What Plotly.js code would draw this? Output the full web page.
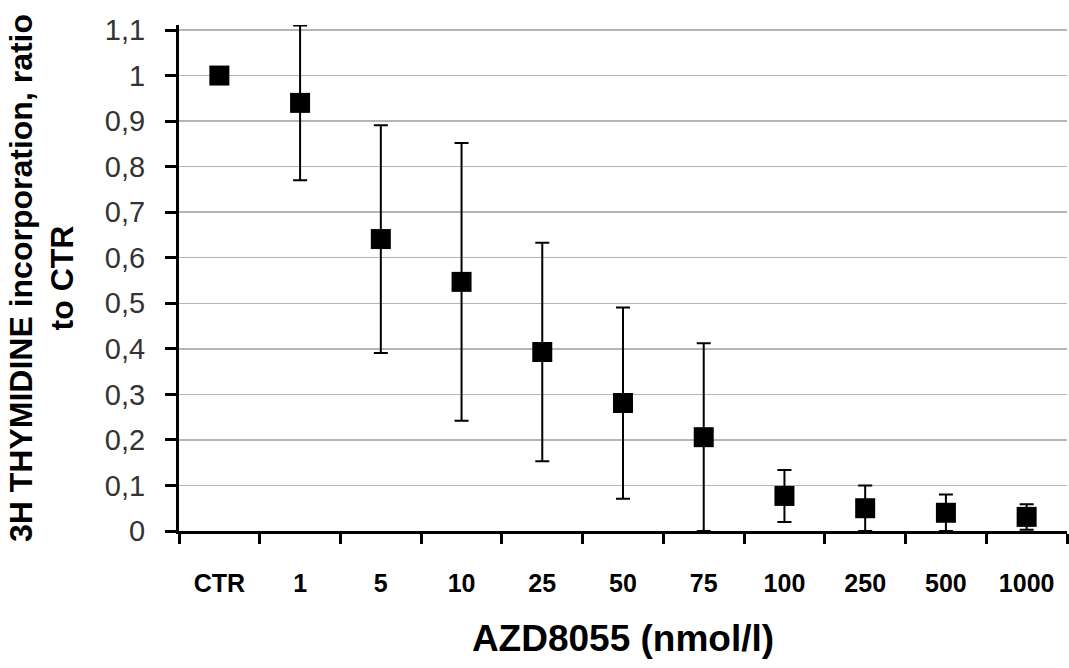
<!DOCTYPE html>
<html>
<head>
<meta charset="utf-8">
<script src="https://cdn.plot.ly/plotly-3.0.1.min.js"></script>
<style>
html,body{margin:0;padding:0;background:#fff;}
#chart{width:1069px;height:668px;}
</style>
</head>
<body>
<div id="chart"></div>
<script>
const categories = ["CTR", "1", "5", "10", "25", "50", "75", "100", "250", "500", "1000"];
const ratioValues = [1.0, 0.94, 0.641, 0.547, 0.393, 0.281, 0.206, 0.077, 0.050, 0.040, 0.031];
const ratioErrors = [0, 0.17, 0.25, 0.305, 0.24, 0.21, 0.206, 0.057, 0.05, 0.04, 0.028];
const yTickVals = [0, 0.1, 0.2, 0.3, 0.4, 0.5, 0.6, 0.7, 0.8, 0.9, 1, 1.1];
const yTickText = ["0", "0,1", "0,2", "0,3", "0,4", "0,5", "0,6", "0,7", "0,8", "0,9", "1", "1,1"];

const trace = {
  type: 'scatter',
  mode: 'markers',
  x: categories,
  y: ratioValues,
  cliponaxis: false,
  marker: {symbol: 'square', size: 20, color: '#000'},
  error_y: {type: 'data', array: ratioErrors, visible: true, color: '#000', thickness: 2, width: 7},
  showlegend: false
};

const layout = {
  width: 1069,
  height: 668,
  margin: {l: 179, r: 2, t: 25, b: 137},
  paper_bgcolor: '#fff',
  plot_bgcolor: '#fff',
  separators: ',.',
  font: {family: 'Liberation Sans, Arial, sans-serif', color: '#000'},
  xaxis: {
    type: 'category',
    range: [-0.5, 10.5],
    tickson: 'boundaries',
    ticks: 'outside',
    ticklen: 10,
    tickwidth: 3,
    tickcolor: '#000',
    showline: true,
    linecolor: '#000',
    linewidth: 3,
    showgrid: false,
    zeroline: false,
    ticklabelstandoff: 28,
    tickfont: {family: 'Liberation Sans, Arial, sans-serif', size: 25, color: '#000', weight: 'bold'},
    title: {text: '<b>AZD8055 (nmol/l)</b>', font: {size: 37, color: '#000'}, standoff: 30}
  },
  yaxis: {
    range: [0, 1.111],
    tickmode: 'array',
    tickvals: yTickVals,
    ticktext: yTickText,
    ticks: 'outside',
    ticklen: 11,
    tickwidth: 3,
    tickcolor: '#000',
    showline: true,
    linecolor: '#000',
    linewidth: 3,
    showgrid: true,
    gridcolor: '#b5b5b5',
    gridwidth: 1.5,
    zeroline: false,
    ticklabelstandoff: 14,
    tickfont: {family: 'Liberation Sans, Arial, sans-serif', size: 29, color: '#333'},
    title: {text: '<b>3H THYMIDINE incorporation, ratio<br>to CTR</b>', font: {size: 32, color: '#000'}, standoff: 22}
  }
};

Plotly.newPlot('chart', [trace], layout, {displayModeBar: false, staticPlot: true});
</script>
</body>
</html>
